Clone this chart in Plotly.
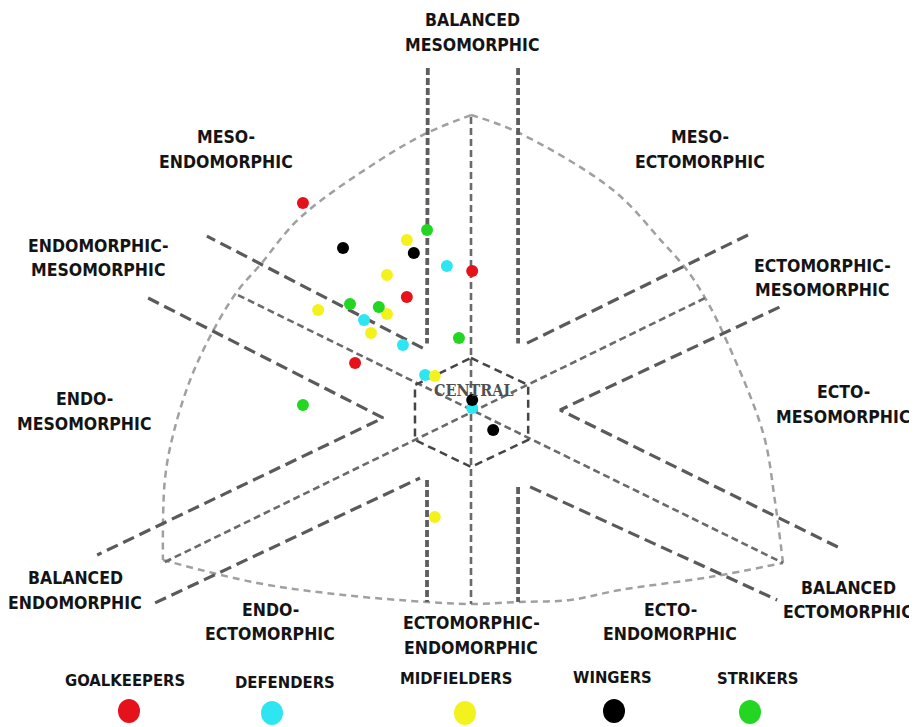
import plotly.graph_objects as go

# ---------------- data (somatochart units: X = ecto - endo, Y = 2*meso - endo - ecto) ----------
groups = ["GOALKEEPERS", "DEFENDERS", "MIDFIELDERS", "WINGERS", "STRIKERS"]
colors = ["#e5121b", "#2de6f2", "#f4f21c", "#000000", "#22d622"]

gk_x = [-4.32, 0.03, -1.65, -2.98]
gk_y = [11.30, 7.62, 6.22, 2.65]
df_x = [-0.62, -2.75, -1.75, -1.18, 0.03]
df_y = [7.89, 4.97, 3.62, 2.00, 0.22]
mf_x = [-1.65, -2.16, -3.93, -2.16, -2.57, -0.93, -0.93]
mf_y = [9.30, 7.41, 5.51, 5.30, 4.27, 1.95, -5.68]
wg_x = [-3.29, -1.47, 0.03, 0.57]
wg_y = [8.86, 8.59, 0.65, -0.97]
st_x = [-1.13, -3.11, -2.37, -0.31, -4.32]
st_y = [9.84, 5.84, 5.68, 4.00, 0.38]

series_x = [gk_x, df_x, mf_x, wg_x, st_x]
series_y = [gk_y, df_y, mf_y, wg_y, st_y]

# ---------------- somatochart frame geometry (chart units) ----------------
strip_verticals = [
    [(-1.11, 18.59), (-1.13, 3.70)],
    [(1.21, 18.59), (1.21, 3.70)],
    [(-1.13, -3.68), (-1.13, -10.27)],
    [(1.21, -4.05), (1.21, -10.27)],
]
strip_diagonals = [
    [(-1.24, 3.45), (-6.79, 9.51)],
    [(-8.30, 6.16), (-2.26, -0.32), (-9.61, -7.73)],
    [(-8.12, -10.32), (-1.31, -3.57)],
    [(1.52, -4.05), (7.87, -10.16)],
    [(9.43, -7.30), (2.29, 0.11), (7.94, 5.68)],
    [(7.12, 9.57), (1.34, 3.62)],
]
axes_lines = [
    [(0.0, 15.95), (0.0, -10.38)],
    [(-5.99, 6.32), (8.02, -8.16)],
    [(-7.87, -8.11), (6.02, 6.16)],
]
hexagon = [(0, 2.92), (1.47, 1.46), (1.47, -1.51), (0, -2.97), (-1.44, -1.51), (-1.44, 1.46), (0, 2.92)]
left_arc = [(0, 16.05), (-1.13, 15.08), (-2.34, 13.62), (-4.40, 10.49), (-5.42, 7.95), (-6.02, 6.49),
            (-6.66, 4.27), (-7.22, 1.73), (-7.66, -1.24), (-7.87, -3.68), (-7.92, -8.0)]
right_arc = [(0, 16.05), (1.18, 15.14), (3.65, 12.0), (4.94, 9.14), (5.55, 7.68), (6.02, 6.16),
             (6.48, 4.27), (7.51, -1.14), (7.81, -4.76), (8.02, -8.16)]
bottom_arc = [(-7.92, -8.0), (-5.50, -9.24), (-3.29, -9.89), (-1.13, -10.27), (0, -10.38),
              (1.21, -10.27), (2.55, -10.16), (3.83, -9.62), (6.14, -8.92), (8.02, -8.16)]

# label layout: (lines, centre x, y of first line, y of second line) in page pixels
region_labels = [
    (("BALANCED", "MESOMORPHIC"), 472, 20, 45),
    (("MESO-", "ENDOMORPHIC"), 226, 137, 162),
    (("MESO-", "ECTOMORPHIC"), 700, 137, 162),
    (("ENDOMORPHIC-", "MESOMORPHIC"), 98, 246, 270),
    (("ECTOMORPHIC-", "MESOMORPHIC"), 822, 266, 290),
    (("ENDO-", "MESOMORPHIC"), 84, 399, 424),
    (("ECTO-", "MESOMORPHIC"), 843, 392, 417),
    (("BALANCED", "ENDOMORPHIC"), 75, 578, 603),
    (("BALANCED", "ECTOMORPHIC"), 848, 588, 612),
    (("ENDO-", "ECTOMORPHIC"), 270, 610, 634),
    (("ECTO-", "ENDOMORPHIC"), 670, 610, 634),
    (("ECTOMORPHIC-", "ENDOMORPHIC"), 471, 623, 648),
]
legend_text_pos = [(125, 680), (285, 682), (456, 678), (612, 677), (758, 678)]
legend_dot_pos = [(129, 711), (272, 713), (465, 713), (614, 711), (750, 712)]

PAGE_OFF = 8                      # default page margin of the html body
W, H = 917 - PAGE_OFF, 727 - PAGE_OFF
CX, CY, SX, SY = 471.0 - PAGE_OFF, 412.0 - PAGE_OFF, 38.9, 18.5


def px(x):
    return (x - PAGE_OFF) / W


def py(y):
    return 1 - (y - PAGE_OFF) / H


fig = go.Figure()


def add_line(pts, color, width, dash, shape="linear"):
    fig.add_trace(go.Scatter(x=[p[0] for p in pts], y=[p[1] for p in pts], mode="lines",
                             line=dict(color=color, width=width, dash=dash, shape=shape),
                             hoverinfo="skip", showlegend=False))


for arc in (left_arc, right_arc, bottom_arc):
    add_line(arc, "#a0a0a0", 2.5, "7px,5px", "spline")
for ln in axes_lines:
    add_line(ln, "#6a6a6a", 2.6, "7px,4px")
for ln in strip_verticals:
    add_line(ln, "#5e5e5e", 3.8, "7px,3px")
for ln in strip_diagonals:
    add_line(ln, "#5a5a5a", 3.2, "12px,6px")
add_line(hexagon, "#454545", 2.5, "8px,5px")

fig.add_annotation(x=px(474), y=py(390), xref="paper", yref="paper", text="<b>CENTRAL</b>",
                   xanchor="center", yanchor="middle", showarrow=False,
                   font=dict(family="DejaVu Serif Condensed, DejaVu Serif, serif", size=16, color="#505050"))

for g, c, xs, ys in zip(groups, colors, series_x, series_y):
    fig.add_trace(go.Scatter(x=xs, y=ys, mode="markers", name=g,
                             marker=dict(color=c, size=12, line=dict(width=0)), showlegend=False))

FONT = "DejaVu Sans Condensed, sans-serif"
for lines, lx, y1, y2 in region_labels:
    for txt, ly in zip(lines, (y1, y2)):
        fig.add_annotation(x=px(lx), y=py(ly), xref="paper", yref="paper", text=f"<b>{txt}</b>",
                           xanchor="center", yanchor="middle", showarrow=False,
                           font=dict(family=FONT, size=17.5, color="#141414"))

for g, c, (tx, ty), (dx, dy) in zip(groups, colors, legend_text_pos, legend_dot_pos):
    fig.add_annotation(x=px(tx), y=py(ty), xref="paper", yref="paper", text=f"<b>{g}</b>",
                       xanchor="center", yanchor="middle", showarrow=False,
                       font=dict(family=FONT, size=16.5, color="#141414"))
    fig.add_shape(type="circle", xref="paper", yref="paper",
                  x0=px(dx - 11), x1=px(dx + 11), y0=py(dy + 12), y1=py(dy - 12),
                  fillcolor=c, line=dict(width=0))

fig.update_layout(
    width=W, height=H, margin=dict(l=0, r=0, t=0, b=0),
    paper_bgcolor="white", plot_bgcolor="white",
    xaxis=dict(range=[-CX / SX, (W - CX) / SX], visible=False, fixedrange=True),
    yaxis=dict(range=[(CY - H) / SY, CY / SY], visible=False, fixedrange=True),
)
fig.write_html("out.html")
